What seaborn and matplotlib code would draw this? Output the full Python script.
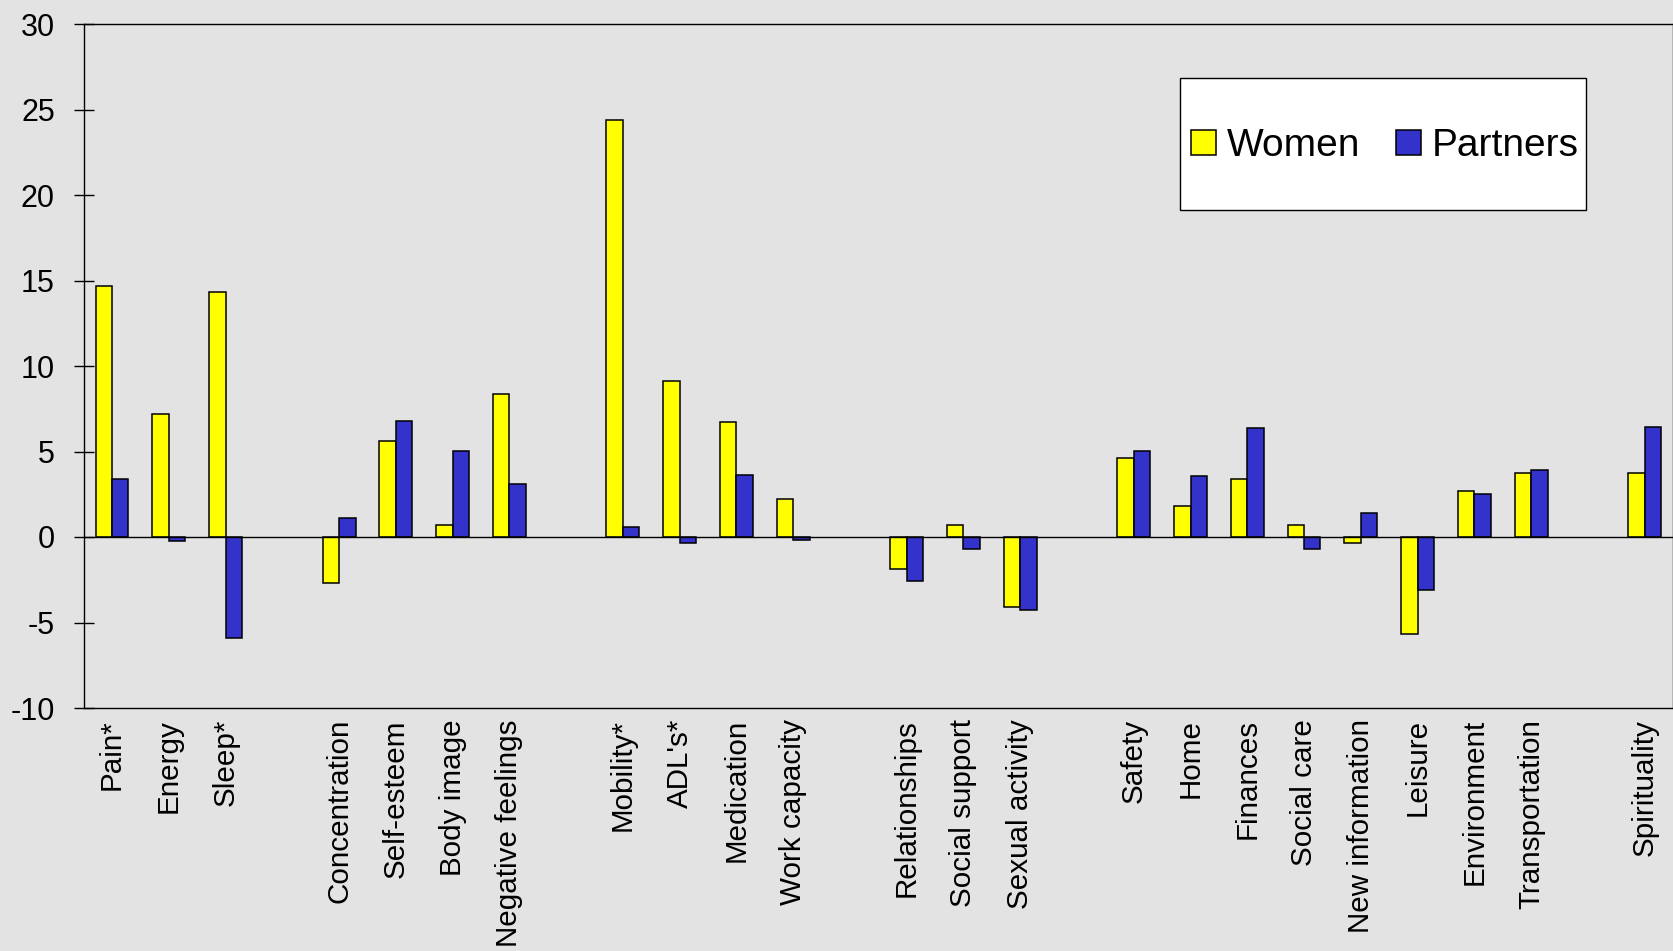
import numpy as np
import pandas as pd
import matplotlib
matplotlib.use("Agg")
import matplotlib.pyplot as plt
from matplotlib.patches import Patch, Rectangle
import seaborn as sns

# ---- data ----
groups = [
    ["Pain*", "Energy", "Sleep*"],
    ["Concentration", "Self-esteem", "Body image", "Negative feelings"],
    ["Mobility*", "ADL's*", "Medication", "Work capacity"],
    ["Relationships", "Social support", "Sexual activity"],
    ["Safety", "Home", "Finances", "Social care", "New information",
     "Leisure", "Environment", "Transportation"],
    ["Spirituality"],
]
categories = [c for g in groups for c in g]
women = [14.7, 7.2, 14.3,
         -2.7, 5.6, 0.7, 8.35,
         24.4, 9.15, 6.7, 2.25,
         -1.9, 0.7, -4.1,
         4.6, 1.8, 3.4, 0.7, -0.35, -5.65, 2.7, 3.75,
         3.75]
partners = [3.4, -0.25, -5.9,
            1.1, 6.8, 5.05, 3.1,
            0.6, -0.35, 3.65, -0.15,
            -2.6, -0.7, -4.25,
            5.05, 3.55, 6.35, -0.7, 1.4, -3.1, 2.5, 3.9,
            6.45]
series = ["Women", "Partners"]
colors = {"Women": "#FFFF00", "Partners": "#3333CC"}
yticks = list(range(-10, 31, 5))

df = pd.DataFrame({
    "Category": categories * 2,
    "Value": women + partners,
    "Group": ["Women"] * len(categories) + ["Partners"] * len(categories),
})

# category order with blank separator slots between groups
order = []
for i, g in enumerate(groups):
    if i > 0:
        order.append(" " * i)
    order.extend(g)
tick_labels = [c if c.strip() else "" for c in order]

# ---- figure ----
plt.rcParams["font.family"] = ["Liberation Sans", "DejaVu Sans"]
bg = "#E3E3E3"
fig = plt.figure(figsize=(16.74, 9.51), dpi=100, facecolor=bg)
ax = fig.add_axes([83.6 / 1674, 1 - 708 / 951, (1673 - 83.6) / 1674, (708 - 24) / 951])
ax.set_facecolor(bg)

sns.barplot(data=df, x="Category", y="Value", hue="Group", order=order,
            hue_order=series, palette=colors, saturation=1, width=0.58,
            errorbar=None, edgecolor="black", linewidth=1.1, legend=False,
            ax=ax, zorder=3)

ax.axhline(0, color="black", lw=1.0, zorder=4)
ax.set_xlim(-0.5, len(order) - 0.5)
ax.set_ylim(-10, 30)
ax.set_yticks(yticks)
ax.set_yticklabels([str(t) for t in yticks])
ax.set_xticks(range(len(order)))
ax.set_xticklabels(tick_labels, rotation=90, ha="center", va="top")
ax.set_xlabel("")
ax.set_ylabel("")
ax.grid(False)
ax.tick_params(axis="y", direction="inout", length=14.4, width=1.0,
               labelsize=22, pad=13.4, colors="black")
ax.tick_params(axis="x", length=0, labelsize=21.3, pad=8)
for s in ax.spines.values():
    s.set_visible(True)
    s.set_color("black")
    s.set_linewidth(1.0)

# legend box
box = Rectangle((1179.5 / 1674, 1 - 210 / 951), 406.2 / 1674, 132 / 951,
                transform=fig.transFigure, facecolor="white", edgecolor="black",
                linewidth=1.0, zorder=8)
ax.add_artist(box)
handles = [Patch(facecolor=colors[s], edgecolor="black", linewidth=1.1) for s in series]
leg = ax.legend(handles, series, ncol=2, fontsize=28, frameon=False,
                loc="center", bbox_to_anchor=(1385 / 1674, 1 - 146.5 / 951),
                bbox_transform=fig.transFigure, handlelength=0.64,
                handleheight=0.62, handletextpad=0.3, columnspacing=0.9)
leg.set_zorder(10)

fig.savefig("out.png", dpi=100, facecolor=bg)
